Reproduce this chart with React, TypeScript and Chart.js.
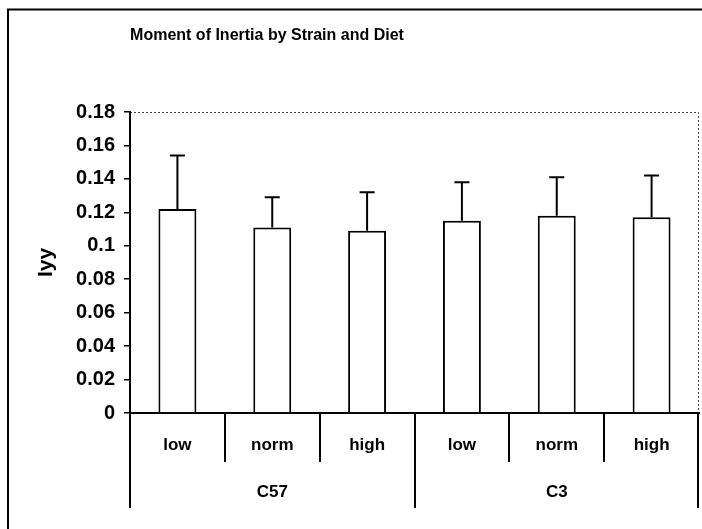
import React, { useEffect, useRef } from "react";
import { Chart, registerables } from "chart.js";

Chart.register(...registerables);

const chartTitle = "Moment of Inertia by Strain and Diet";
const yAxisTitle = "Iyy";
const dietLabels = ["low", "norm", "high", "low", "norm", "high"];
const strainLabels = ["C57", "C3"];
const meanValues = [0.122, 0.111, 0.109, 0.115, 0.118, 0.117];
const errorValues = [0.032, 0.018, 0.023, 0.023, 0.023, 0.025];
const yTicksMax = 0.18;
const yTickStep = 0.02;

const FONT = "'Liberation Sans', Arial, Helvetica, sans-serif";

const decorPlugin = {
  id: "decor",
  beforeDraw(chart: any) {
    const ctx = chart.ctx;
    ctx.save();
    ctx.fillStyle = "#ffffff";
    ctx.fillRect(0, 0, chart.width, chart.height);
    // outer frame
    ctx.strokeStyle = "#000";
    ctx.lineWidth = 2;
    ctx.beginPath();
    ctx.moveTo(8, chart.height);
    ctx.lineTo(8, 9.5);
    ctx.lineTo(chart.width, 9.5);
    ctx.stroke();
    // title
    ctx.fillStyle = "#000";
    ctx.font = `bold 16px ${FONT}`;
    ctx.textAlign = "center";
    ctx.textBaseline = "middle";
    ctx.fillText(chartTitle, 267, 36);
    // dotted plot border (top and right)
    const a = chart.chartArea;
    ctx.strokeStyle = "#444";
    ctx.lineWidth = 1;
    ctx.setLineDash([2, 2]);
    ctx.beginPath();
    ctx.moveTo(a.left, a.top + 0.5);
    ctx.lineTo(a.right - 0.5, a.top + 0.5);
    ctx.lineTo(a.right - 0.5, a.bottom);
    ctx.stroke();
    ctx.restore();
  },
  afterDatasetsDraw(chart: any) {
    const ctx = chart.ctx;
    const xs = chart.scales.x;
    const ys = chart.scales.y;
    ctx.save();
    ctx.strokeStyle = "#000";
    ctx.lineWidth = 2;
    meanValues.forEach((v, i) => {
      const x = xs.getPixelForValue(i);
      const y0 = ys.getPixelForValue(v);
      const y1 = ys.getPixelForValue(v + errorValues[i]);
      ctx.beginPath();
      ctx.moveTo(x, y0);
      ctx.lineTo(x, y1);
      ctx.moveTo(x - 7.5, y1);
      ctx.lineTo(x + 7.5, y1);
      ctx.stroke();
    });
    // two-level category axis
    const a = chart.chartArea;
    const n = dietLabels.length;
    const step = (a.right - a.left) / n;
    ctx.lineWidth = 2;
    for (let i = 0; i <= n; i++) {
      const x = Math.round(a.left + i * step) - (i === n ? 1 : 0);
      const isGroup = i % 3 === 0;
      ctx.beginPath();
      ctx.moveTo(x, a.bottom);
      ctx.lineTo(x, isGroup ? a.bottom + 95 : a.bottom + 49);
      ctx.stroke();
    }
    ctx.fillStyle = "#000";
    ctx.textAlign = "center";
    ctx.textBaseline = "middle";
    ctx.font = `bold 17px ${FONT}`;
    dietLabels.forEach((lab, i) => {
      ctx.fillText(lab, xs.getPixelForValue(i), a.bottom + 32);
    });
    strainLabels.forEach((lab, g) => {
      const cx = a.left + (g * 3 + 1.5) * step;
      ctx.fillText(lab, cx, a.bottom + 79);
    });
    ctx.restore();
  },
};

export default function App() {
  const ref = useRef<HTMLCanvasElement | null>(null);
  useEffect(() => {
    if (!ref.current) return;
    const chart = new Chart(ref.current, {
      type: "bar",
      data: {
        labels: dietLabels,
        datasets: [
          {
            data: meanValues,
            backgroundColor: "#ffffff",
            borderColor: "#000000",
            borderWidth: 2,
            barPercentage: 0.4,
            categoryPercentage: 1,
          },
        ],
      },
      options: {
        animation: false,
        responsive: false,
        maintainAspectRatio: false,
        layout: { padding: { left: 10, right: 3, top: 112, bottom: 0 } },
        plugins: {
          legend: { display: false },
          title: { display: false },
          tooltip: { enabled: false },
        },
        scales: {
          x: {
            ticks: { display: false },
            grid: { display: false },
            border: { display: true, color: "#000", width: 2 },
            afterFit: (s: any) => {
              s.height = 116;
            },
          },
          y: {
            min: 0,
            max: yTicksMax,
            ticks: {
              stepSize: yTickStep,
              color: "#000",
              padding: 9,
              font: { family: FONT, size: 20, weight: "bold" },
              callback: (v: any) => String(Math.round(Number(v) * 100) / 100),
            },
            grid: {
              display: true,
              drawOnChartArea: false,
              drawTicks: true,
              tickLength: 6,
              color: "#000",
              lineWidth: 1.5,
            },
            border: { display: true, color: "#000", width: 2 },
            title: {
              display: true,
              text: yAxisTitle,
              color: "#000",
              font: { family: FONT, size: 21, weight: "bold" },
              padding: { top: 24, bottom: 0 },
            },
            afterFit: (s: any) => {
              s.width = 120;
            },
          },
        },
      },
      plugins: [decorPlugin],
    });
    return () => chart.destroy();
  }, []);
  return (
    <div style={{ position: "absolute", left: 0, top: 0, width: 702, height: 529 }}>
      <canvas ref={ref} width={702} height={529} style={{ width: 702, height: 529 }} />
    </div>
  );
}
